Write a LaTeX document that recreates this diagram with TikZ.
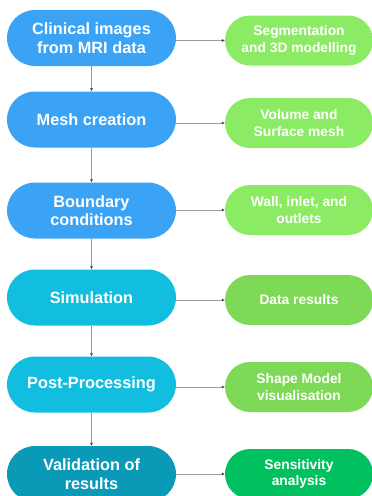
\documentclass[tikz,border=0pt]{standalone}
\usepackage{fontspec}
\setmainfont{Liberation Sans}
\usetikzlibrary{arrows.meta}
\definecolor{cblue}{HTML}{3AA3F5}
\definecolor{ccyan}{HTML}{12BEE0}
\definecolor{cteal}{HTML}{0A9AB8}
\definecolor{glight}{HTML}{8CEB64}
\definecolor{gmid}{HTML}{7ED957}
\definecolor{gdark}{HTML}{00C060}
\definecolor{cline}{HTML}{9A9A9A}
\tikzset{
  leftbox/.style={rectangle, rounded corners=28pt, minimum width=169pt, minimum height=56pt,
    inner sep=0pt, text=white, align=center, font=\fontsize{16.3}{18.5}\selectfont\bfseries},
  rightbox/.style={rectangle, rounded corners=25pt, minimum width=148pt, minimum height=50pt,
    inner sep=0pt, text=white, align=center, font=\fontsize{13.8}{16.5}\selectfont\bfseries},
  conn/.style={draw=cline, line width=0.9pt, -{Latex[length=3pt,width=3pt,fill=black!75,color=black!75]}}
}
\begin{document}
\begin{tikzpicture}[x=1pt,y=-1pt]
\useasboundingbox (0,0) rectangle (372,496);
\node[leftbox, fill=cblue] (L1) at (91.5,38) {Clinical images\\from MRI data};
\node[leftbox, fill=cblue] (L2) at (91.5,119.5) {Mesh creation};
\node[leftbox, fill=cblue] (L3) at (91.5,210.5) {Boundary\\conditions};
\node[leftbox, fill=ccyan] (L4) at (91.5,297.5) {Simulation};
\node[leftbox, fill=ccyan] (L5) at (91.5,384.5) {Post-Processing};
\node[leftbox, fill=cteal] (L6) at (91.5,474) {Validation of\\results};
\node[rightbox, fill=glight] (R1) at (299,40.5) {Segmentation\\and 3D modelling};
\node[rightbox, fill=glight] (R2) at (299,123) {Volume and\\Surface mesh};
\node[rightbox, fill=glight] (R3) at (299,210) {Wall, inlet, and\\outlets};
\node[rightbox, fill=gmid] (R4) at (299,300) {Data results};
\node[rightbox, fill=gmid] (R5) at (299,387) {Shape Model\\visualisation};
\node[rightbox, fill=gdark] (R6) at (299,474) {Sensitivity\\analysis};
\foreach \i in {1,...,6}{
  \draw[conn] (L\i.east |- R\i.west) -- (R\i.west);
}
\foreach \i/\j in {1/2,2/3,3/4,4/5,5/6}{
  \draw[conn] (L\i.south) -- (L\j.north);
}
\end{tikzpicture}
\end{document}
